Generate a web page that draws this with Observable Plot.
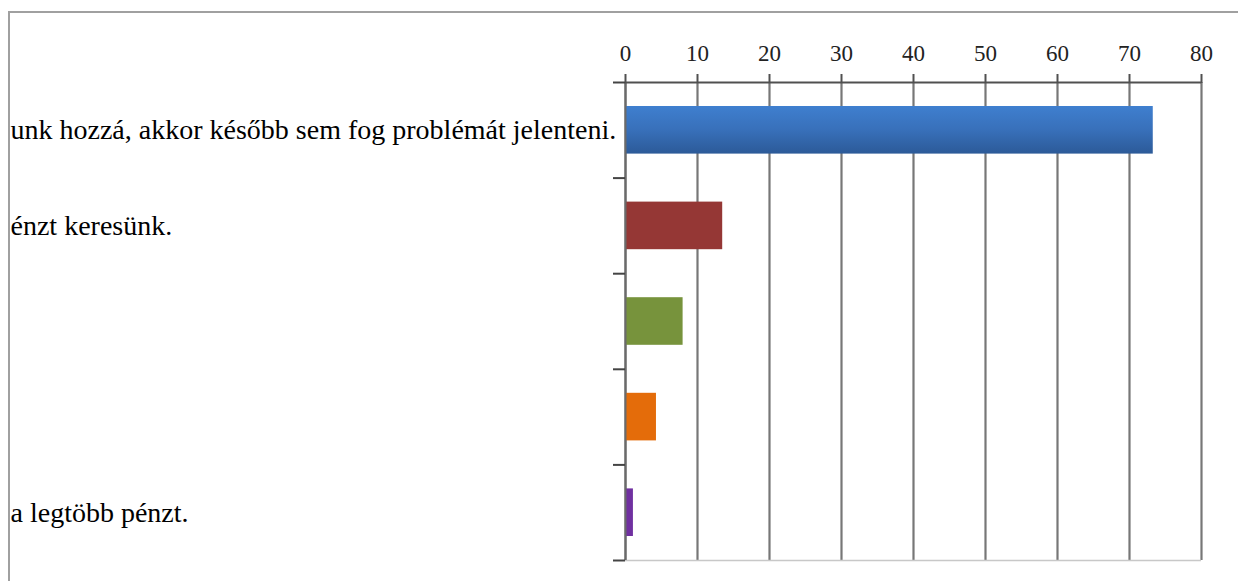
<!DOCTYPE html>
<html>
<head>
<meta charset="utf-8">
<script src="https://cdn.jsdelivr.net/npm/d3@7"></script>
<script src="https://cdn.jsdelivr.net/npm/@observablehq/plot@0.6"></script>
<style>
  html, body { margin: 0; padding: 0; background: #fff; overflow: hidden; }
  #wrap { position: relative; width: 1238px; height: 581px; overflow: hidden; }
  #frame { position: absolute; left: 8px; top: 11px; width: 1400px; height: 800px;
           border: 2px solid #a0a0a0; box-sizing: border-box; pointer-events: none; }
  #chart { position: absolute; left: 0; top: 0; }
  #chart svg text { font-family: "Liberation Serif", "Times New Roman", serif; }
</style>
</head>
<body>
<div id="wrap"><div id="chart"></div><div id="frame"></div></div>
<script>
// Category labels (only the visible parts of the clipped labels)
const labels = [
  "unk hozzá, akkor később sem fog problémát jelenteni.",
  "énzt keresünk.",
  "",
  "",
  "a legtöbb pénzt."
];
const values = [73.3, 13.5, 8.0, 4.3, 1.1];
const colors = ["url(#blueGrad)", "#953735", "#77933C", "#E46C0A", "#7030A0"];
const xTicks = [0, 10, 20, 30, 40, 50, 60, 70, 80];
const rowBounds = [0, 1, 2, 3, 4, 5];

const data = labels.map((label, i) => ({ i, label, value: values[i], color: colors[i] }));

const serif = "Liberation Serif, Times New Roman, serif";

const chart = Plot.plot({
  width: 1238,
  height: 581,
  marginLeft: 625,
  marginRight: 37,
  marginTop: 82,
  marginBottom: 21,
  style: { fontFamily: serif, background: "transparent", overflow: "visible" },
  x: { domain: [0, 80] },
  y: { domain: [0, 5], reverse: true },
  marks: [
    // vertical gridlines
    Plot.ruleX(xTicks, { x: d => d, y1: 0, y2: 5, stroke: "#777", strokeWidth: 2.2 }),
    // bottom line
    Plot.ruleY([5], { x1: 0, x2: 80, stroke: "#c8c8c8", strokeWidth: 1.5 }),
    // bars
    Plot.rectX(data, {
      x1: 0, x2: "value", y1: "i", y2: d => d.i + 1,
      insetTop: 24, insetBottom: 24, fill: "color"
    }),
    // y axis line
    Plot.ruleX([0], { y1: 0, y2: 5, stroke: "#6a6a6a", strokeWidth: 2 }),
    // top axis line
    Plot.ruleY([0], { x1: 0, x2: 80, stroke: "#505050", strokeWidth: 2.2 }),
    // x axis ticks + labels at top
    Plot.axisX(xTicks, {
      anchor: "top", tickSize: 9, tickPadding: 13, stroke: "#505050", strokeWidth: 2,
      fontSize: 23, fill: "#222", tickFormat: d => String(d), label: null
    }),
    // y axis ticks at category boundaries
    Plot.axisY(rowBounds, {
      anchor: "left", tickSize: 12, stroke: "#444", strokeWidth: 2,
      tickFormat: () => "", label: null
    }),
    // category labels
    Plot.text(data, {
      y: d => d.i + 0.5, text: "label", frameAnchor: "left",
      textAnchor: "start", dx: -615, fontSize: 28, fill: "#000"
    })
  ]
});

const defs = d3.select(chart).insert("defs", ":first-child");
const g = defs.append("linearGradient").attr("id", "blueGrad")
  .attr("x1", 0).attr("y1", 0).attr("x2", 0).attr("y2", 1);
g.append("stop").attr("offset", "0%").attr("stop-color", "#3F7FCF");
g.append("stop").attr("offset", "50%").attr("stop-color", "#3870BA");
g.append("stop").attr("offset", "100%").attr("stop-color", "#2C5A98");

document.getElementById("chart").appendChild(chart);
</script>
</body>
</html>
